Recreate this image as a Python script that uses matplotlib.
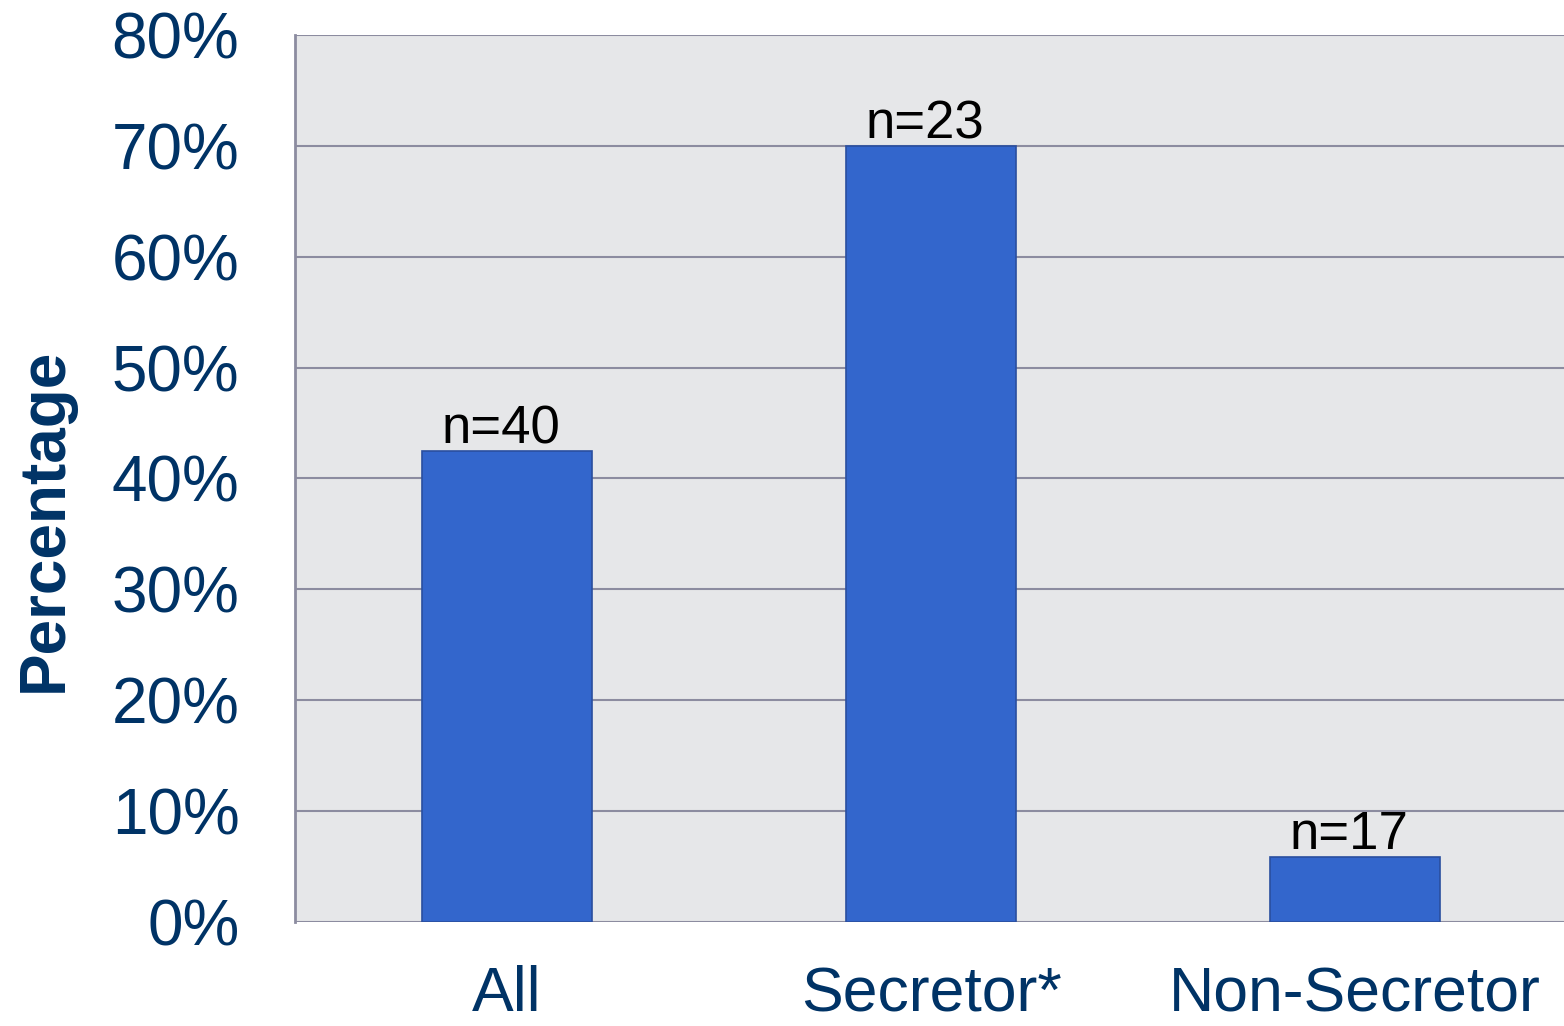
import matplotlib
matplotlib.use("Agg")
import matplotlib.pyplot as plt
from matplotlib.ticker import PercentFormatter

categories = ["All", "Secretor*", "Non-Secretor"]
percentages = [42.5, 70.0, 5.9]
n_labels = ["n=40", "n=23", "n=17"]
y_ticks = [0, 10, 20, 30, 40, 50, 60, 70, 80]

navy = "#003366"
grid_col = "#8C8CA0"

plt.rcParams["font.family"] = ["Liberation Sans", "DejaVu Sans"]

fig = plt.figure(figsize=(15.64, 10.26), dpi=100)
ax = fig.add_axes([0.1886, 0.1014, 0.8134, 0.8645])
ax.set_facecolor("#E6E7E9")

x = range(len(categories))
bars = ax.bar(x, percentages, width=0.4, color="#3366CC",
              edgecolor="#2A4F9F", linewidth=1.2, zorder=3)

for rect, lab in zip(bars, n_labels):
    ax.text(rect.get_x() + rect.get_width() / 2 - 0.015, rect.get_height() - 0.3, lab,
            ha="center", va="bottom", fontsize=38, color="black", zorder=4)

ax.set_xlim(-0.5, 2.5)
ax.set_ylim(0, 80)
ax.set_yticks(y_ticks)
ax.yaxis.set_major_formatter(PercentFormatter(decimals=0))
ax.set_xticks(list(x))
ax.set_xticklabels(categories)
ax.tick_params(axis="y", length=0, pad=40, labelsize=46, labelcolor=navy)
ax.tick_params(axis="x", length=0, pad=31, labelsize=45, labelcolor=navy)

ax.yaxis.grid(True, color=grid_col, linewidth=1.5, zorder=1)
ax.set_axisbelow(True)
for side in ["top", "right", "bottom"]:
    ax.spines[side].set_visible(False)
ax.spines["left"].set_color(grid_col)
ax.spines["left"].set_linewidth(2)

ax.set_ylabel("Percentage", fontsize=46, fontweight="bold", color=navy)
ax.yaxis.set_label_coords(-0.173, 0.453)

fig.savefig("out.png", dpi=100)
